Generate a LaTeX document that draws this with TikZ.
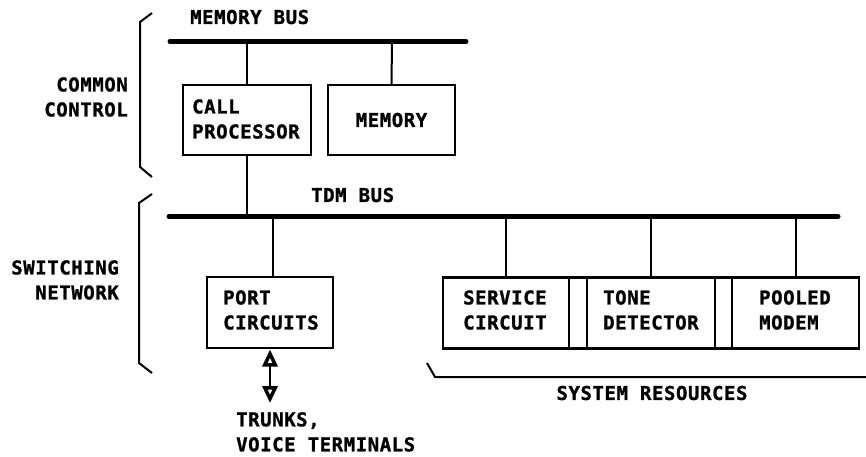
\documentclass[tikz,border=0pt]{standalone}
\usepackage{fontspec}
\setmainfont{DejaVu Sans Mono}[BoldFont={DejaVu Sans Mono Bold},BoldFeatures={FakeBold=1.2},LetterSpace=3]
\usetikzlibrary{arrows.meta}
\begin{document}
\begin{tikzpicture}[x=1pt,y=-1pt,
  lbl/.style={font=\fontsize{19}{25}\selectfont\bfseries, inner sep=0pt, align=left},
  lblr/.style={lbl, align=right},
  box/.style={draw, line width=2.4pt, inner sep=0pt, outer sep=0pt},
  bus/.style={line width=5pt, line cap=round},
  wire/.style={line width=2pt},
  brk/.style={line width=2pt},
  darr/.style={{Triangle[open,length=17pt,width=15pt,line width=3.5pt]}-{Triangle[open,length=17pt,width=15pt,line width=3.5pt]}}]
\useasboundingbox (0,0) rectangle (866,456);
% buses
\coordinate (mb1) at (170,41.5); \coordinate (mb2) at (466,41.5);
\draw[bus] (mb1) -- (mb2);
\coordinate (tb1) at (169,216.5); \coordinate (tb2) at (838,216.5);
\draw[bus] (tb1) -- (tb2);
\node[lbl, anchor=west] (mbl) at (190,17) {MEMORY BUS};
\node[lbl, anchor=west] (tbl) at (311,195) {TDM BUS};
% common control boxes
\node[box, minimum width=128pt, minimum height=70pt] (cp) at (247,120) {};
\node[box, minimum width=127pt, minimum height=70pt] (mem) at (391.5,120) {};
\node[lbl, anchor=west] (cpt) at (192,119) {CALL\\PROCESSOR};
\node[lbl] (memt) at (mem.center) {MEMORY};
\coordinate (cpb) at (247,41.5); \coordinate (memb) at (392,41.5);
\coordinate (cpt2) at (247,216.5);
\draw[wire] (cpb) -- (cp.north);
\draw[wire] (memb) -- (mem.north);
\draw[wire] (cp.south) -- (cpt2);
% port circuits
\node[box, minimum width=126pt, minimum height=71pt] (pc) at (270,312.5) {};
\node[lbl, anchor=west] (pct) at (223,310) {PORT\\CIRCUITS};
\coordinate (pcb) at (273,216.5);
\draw[wire] (pcb) -- (pc.north -| pcb);
\coordinate (arE) at (270,403);
\coordinate (arS) at (270,349.5);
\draw[wire, darr] (arS) -- (arE);
\node[lbl, anchor=north west] (trk) at (236,412) {TRUNKS,\\VOICE TERMINALS};
% system resources
\node[box, minimum width=126pt, minimum height=71pt] (sc) at (506,313) {};
\node[box, minimum width=128pt, minimum height=71pt] (td) at (651,313) {};
\node[box, minimum width=127pt, minimum height=71pt] (pm) at (795.5,313) {};
\draw[line width=2.4pt] (sc.north east) -- (td.north west) (sc.south east) -- (td.south west)
  (td.north east) -- (pm.north west) (td.south east) -- (pm.south west);
\node[lbl, anchor=west] (sct) at (463,310) {SERVICE\\CIRCUIT};
\node[lbl, anchor=west] (tdt) at (603,310) {TONE\\DETECTOR};
\node[lbl, anchor=west] (pmt) at (759,310) {POOLED\\MODEM};
\coordinate (scb) at (506,216.5); \coordinate (tdb) at (651,216.5); \coordinate (pmb) at (796,216.5);
\draw[wire] (scb) -- (sc.north);
\draw[wire] (tdb) -- (td.north);
\draw[wire] (pmb) -- (pm.north -| pmb);
% brackets
\draw[brk] (152,13) -- (140,22) -- (140,167) -- (152,177);
\draw[brk] (152,194) -- (139,203) -- (139,363) -- (152,373);
\draw[brk] (427,363) -- (435,377) -- (866,377);
\node[lblr, anchor=east] (cc) at (128,97) {COMMON\\CONTROL};
\node[lblr, anchor=east] (sw) at (119,280) {SWITCHING\\NETWORK};
\node[lbl] (sr) at (652,393) {SYSTEM RESOURCES};
\end{tikzpicture}
\end{document}
